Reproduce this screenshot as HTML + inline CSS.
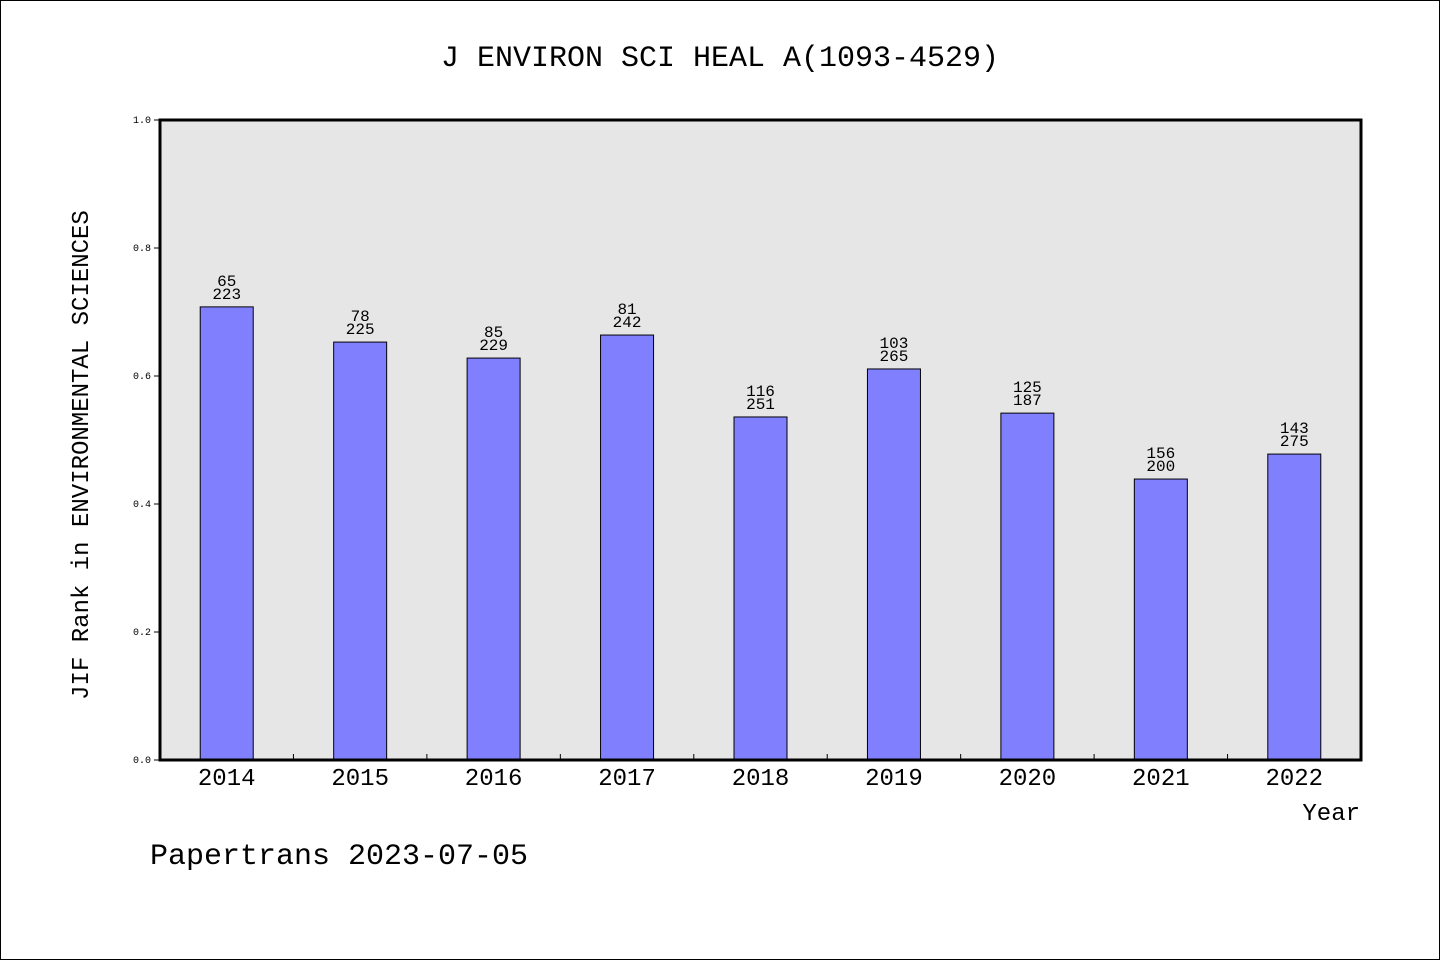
<!DOCTYPE html>
<html><head><meta charset="utf-8"><style>
html,body{margin:0;padding:0;background:#fff}
svg{display:block}
text{font-family:"Liberation Mono","WenQuanYi Zen Hei",monospace;fill:#000}
</style></head><body>
<svg id="chart" width="1440" height="960">
<rect x="0.5" y="0.5" width="1439" height="959" fill="#fff" stroke="#000"/>
<text x="720" y="66" text-anchor="middle" font-size="30">J ENVIRON SCI HEAL A(1093-4529)</text>
<rect x="160" y="120" width="1201" height="640" fill="#e6e6e6"/>
<g id="marks"></g>
<rect x="160" y="120" width="1201" height="640" fill="none" stroke="#000" stroke-width="3"/>
<text transform="translate(88,455) rotate(-90)" text-anchor="middle" font-size="24">JIF Rank in ENVIRONMENTAL SCIENCES</text>
<text x="1360" y="820" text-anchor="end" font-size="24">Year</text>
<text x="150" y="864" font-size="30">Papertrans 2023-07-05</text>
</svg>
<script>
const categories=["2014","2015","2016","2017","2018","2019","2020","2021","2022"];
const values=[0.708,0.653,0.628,0.664,0.536,0.611,0.542,0.439,0.478];
const ranks=["65","78","85","81","116","103","125","156","143"];
const totals=["223","225","229","242","251","265","187","200","275"];
const yTicks=["0.0","0.2","0.4","0.6","0.8","1.0"];
const NS="http://www.w3.org/2000/svg";
const g=document.getElementById('marks');
const x0=160,x1=1361,yTop=120,yBot=760;
const band=(x1-x0)/categories.length;
const xC=i=>x0+band*(i+0.5);
const yS=v=>yBot-v*(yBot-yTop);
function mk(t,a){const e=document.createElementNS(NS,t);for(const k in a)e.setAttribute(k,a[k]);g.appendChild(e);return e;}
yTicks.forEach(t=>{const y=yS(parseFloat(t));
 const l=mk('line',{x1:154,x2:160,y1:y,y2:y,stroke:'#000'});
 
 
 const tx=mk('text',{x:151,y:y+3,'text-anchor':'end','font-size':10});tx.textContent=t;
 
 
});
categories.forEach((c,i)=>{
 const cx=xC(i),y=yS(values[i]);
 const b=mk('rect',{x:cx-26.5,y:y,width:53,height:yBot-y,fill:'#8080ff',stroke:'#000','stroke-width':1});
 
 
 const t1=mk('text',{x:cx,y:y-21,'text-anchor':'middle','font-size':16});t1.textContent=ranks[i];
 
 
 const t2=mk('text',{x:cx,y:y-8,'text-anchor':'middle','font-size':16});t2.textContent=totals[i];
 
 
 const xl=mk('text',{x:cx,y:785,'text-anchor':'middle','font-size':24});xl.textContent=c;
 
 
 if(i>0){const tk=mk('line',{x1:x0+band*i,x2:x0+band*i,y1:754,y2:760,stroke:'#000'});
 
 }
});
</script>
</body></html>
